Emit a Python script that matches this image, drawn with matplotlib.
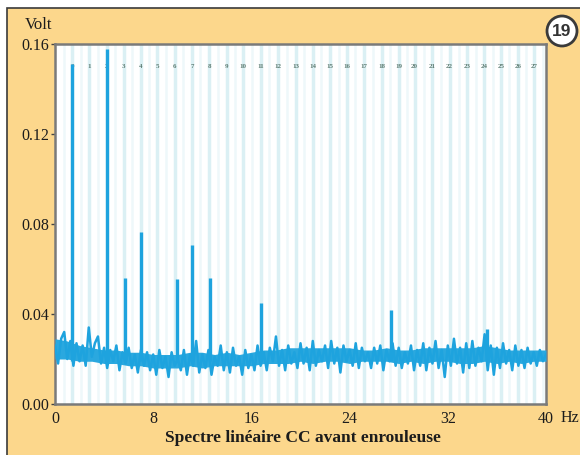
import numpy as np
import matplotlib
matplotlib.use("Agg")
import matplotlib.pyplot as plt
from matplotlib.patches import Rectangle, Ellipse

# ---------------- data ----------------
freq_step = 0.25
noise_level = [
    0.026, 0.018, 0.029, 0.032, 0.020, 0.028, 0.017, 0.027,
    0.019, 0.026, 0.017, 0.034, 0.021, 0.027, 0.030, 0.018,
    0.025, 0.016, 0.024, 0.019, 0.026, 0.015, 0.023, 0.018,
    0.025, 0.016, 0.022, 0.014, 0.024, 0.017, 0.023, 0.015,
    0.022, 0.013, 0.024, 0.016, 0.021, 0.012, 0.023, 0.017,
    0.020, 0.015, 0.024, 0.013, 0.022, 0.017, 0.028, 0.014,
    0.022, 0.016, 0.024, 0.013, 0.021, 0.017, 0.026, 0.015,
    0.023, 0.014, 0.025, 0.017, 0.021, 0.013, 0.024, 0.016,
    0.022, 0.015, 0.026, 0.017, 0.023, 0.015, 0.025, 0.019,
    0.030, 0.017, 0.024, 0.015, 0.026, 0.018, 0.023, 0.016,
    0.027, 0.018, 0.025, 0.015, 0.028, 0.017, 0.024, 0.019,
    0.026, 0.016, 0.028, 0.018, 0.025, 0.014, 0.026, 0.019,
    0.024, 0.017, 0.027, 0.016, 0.025, 0.019, 0.023, 0.016,
    0.025, 0.018, 0.026, 0.015, 0.024, 0.019, 0.027, 0.017,
    0.025, 0.016, 0.023, 0.018, 0.026, 0.015, 0.024, 0.017,
    0.027, 0.015, 0.025, 0.018, 0.028, 0.016, 0.024, 0.012,
    0.026, 0.017, 0.029, 0.018, 0.025, 0.014, 0.027, 0.016,
    0.028, 0.017, 0.025, 0.019, 0.031, 0.015, 0.026, 0.013,
    0.025, 0.016, 0.027, 0.018, 0.024, 0.015, 0.026, 0.017,
    0.024, 0.016, 0.025, 0.018, 0.023, 0.017, 0.024, 0.019,
    0.022,
]
noise_freq = np.arange(len(noise_level)) * freq_step

# dense core of the noise band, read every 1 Hz
band_hi = [0.029, 0.028, 0.026, 0.025, 0.024, 0.024, 0.023, 0.023,
           0.022, 0.022, 0.022, 0.023, 0.023, 0.022, 0.023, 0.022,
           0.023, 0.024, 0.024, 0.025, 0.025, 0.025, 0.025, 0.025,
           0.025, 0.024, 0.024, 0.025, 0.024, 0.024, 0.025, 0.025,
           0.025, 0.025, 0.025, 0.026, 0.025, 0.024, 0.024, 0.024, 0.024]
band_lo = [0.020, 0.020, 0.019, 0.019, 0.018, 0.018, 0.017, 0.017,
           0.016, 0.016, 0.016, 0.017, 0.016, 0.017, 0.017, 0.017,
           0.017, 0.018, 0.018, 0.018, 0.019, 0.018, 0.019, 0.019,
           0.018, 0.019, 0.019, 0.019, 0.018, 0.019, 0.018, 0.019,
           0.019, 0.018, 0.018, 0.019, 0.018, 0.019, 0.018, 0.019, 0.019]
band_freq = np.arange(len(band_hi)) * 1.0

peak_freq = [1.4, 4.2, 5.7, 7.0, 9.9, 11.2, 12.6, 16.75, 27.4, 35.2]
peak_volt = [0.151, 0.158, 0.056, 0.0765, 0.0554, 0.0706, 0.056, 0.0447, 0.0416, 0.0335]

harm_freq = [1.4, 2.8, 4.2, 5.6, 7.0, 8.35, 9.75, 11.15, 12.55, 14.0, 15.35,
             16.75, 18.15, 19.6, 21.0, 22.4, 23.8, 25.15, 26.65, 28.0, 29.3,
             30.75, 32.15, 33.6, 34.95, 36.35, 37.7, 39.05]
harm_label = [str(i) for i in range(28)]

x_ticks = [0, 8, 16, 24, 32, 40]
y_ticks = [0.00, 0.04, 0.08, 0.12, 0.16]

# ---------------- style ----------------
ORANGE = "#FCD78C"
BLUE = "#1EA3DE"
BAND = "#2aa8df"
STRIPE = "#dbf0f4"
STRIPE2 = "#eef8fa"
TXT = "#1c1c1c"
SERIF = ["Liberation Serif", "DejaVu Serif"]

fig = plt.figure(figsize=(5.8, 4.55), dpi=100, facecolor="white")
fig.patches.append(Rectangle((7/580, -0.01), 1.0, (455-8)/455 + 0.01,
                             transform=fig.transFigure, facecolor=ORANGE,
                             edgecolor="#3a3a3a", lw=1.2, zorder=-10))

ax = fig.add_axes([55/580, (455-404)/455, (546-55)/580, (404-44)/455])
ax.set_facecolor("white")
ax.set_xlim(0, 40)
ax.set_ylim(0, 0.16)

# stripes
mids = [(a + b) / 2 for a, b in zip([0.0] + harm_freq[:-1], harm_freq)] + [39.75]
for m in mids:
    ax.axvline(m, color=STRIPE2, lw=1.8, zorder=1)
for h in harm_freq:
    ax.axvline(h, color=STRIPE, lw=2.5, zorder=1)

# harmonic labels
for h, lab in zip(harm_freq, harm_label):
    ax.text(h, 0.937, lab, transform=ax.get_xaxis_transform(), ha="center",
            va="center", fontsize=5, color="#5f7d73", fontweight="bold",
            family=SERIF, zorder=2)

# spectrum
ax.fill_between(band_freq, band_lo, band_hi, color=BAND, lw=0, zorder=3)
ax.plot(noise_freq, noise_level, color=BLUE, lw=1.8, zorder=3)
ax.vlines(peak_freq, 0.019, peak_volt, color=BLUE, lw=2.4, zorder=3)

# axes styling
for s in ax.spines.values():
    s.set_color("#7a7a7a")
    s.set_linewidth(1.8)
ax.set_xticks(x_ticks)
ax.set_xticklabels([str(v) for v in x_ticks], family=SERIF, fontsize=11.5, color=TXT)
ax.set_yticks(y_ticks)
ax.set_yticklabels([f"{v:.2f}" for v in y_ticks], family=SERIF, fontsize=11.5, color=TXT)
ax.tick_params(axis="x", length=0, pad=5)
ax.tick_params(axis="y", length=3, width=1, color="#444444", direction="out", pad=1)

fig.text(25/580, 1 - 25/455, "Volt", family=SERIF, fontsize=12, color=TXT,
         ha="left", va="center")
fig.text(561/580, 1 - 418/455, "Hz", family=SERIF, fontsize=11.5, color=TXT,
         ha="left", va="center")
fig.text(303/580, 1 - 438/455, "Spectre linéaire CC avant enrouleuse",
         family=SERIF, fontsize=12.5, fontweight="bold", color=TXT,
         ha="center", va="center")

# badge
badge = Ellipse((562/580, 1 - 31/455), 30/580, 30/455, transform=fig.transFigure,
                facecolor="white", edgecolor="#3a3a3a", lw=2.0, zorder=5)
fig.patches.append(badge)
fig.text(562/580, 1 - 32/455, "19", fontsize=12.5, fontweight="bold",
         color="#333333", ha="center", va="center", family=["Liberation Sans"],
         zorder=6)

fig.savefig("out.png", dpi=100, facecolor=fig.get_facecolor())
